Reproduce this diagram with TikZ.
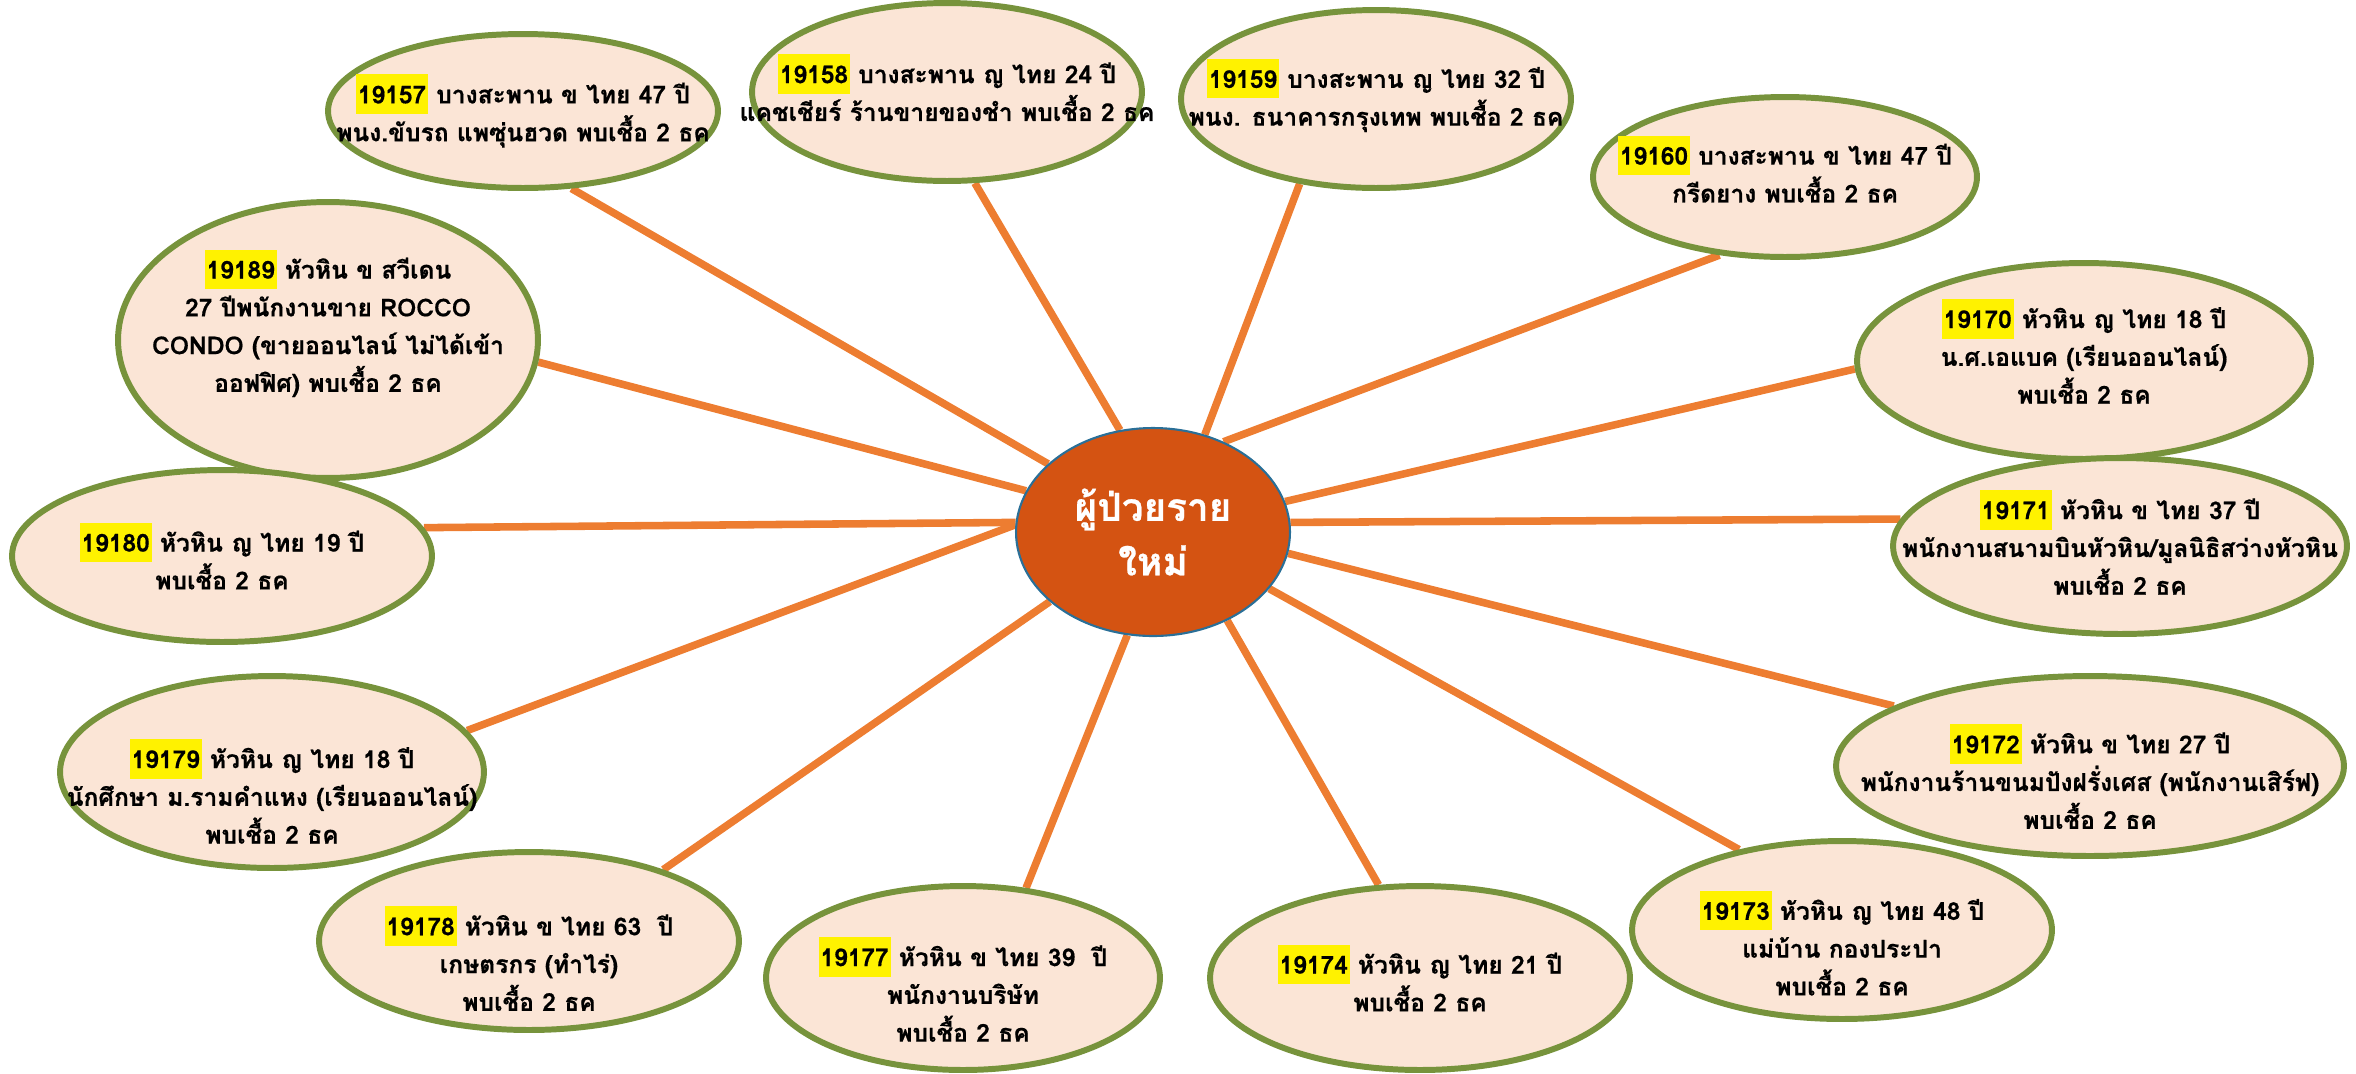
\documentclass[tikz,border=0pt]{standalone}
\usepackage{fontspec}
\usepackage{tikz}
\usetikzlibrary{shapes.geometric}
\usetikzlibrary{backgrounds}
\newfontfamily\thaifont[Script=Thai, BoldFeatures={FakeBold=0.6}]{Loma}
\definecolor{pfill}{HTML}{FBE5D6}
\definecolor{pgreen}{HTML}{77933C}
\definecolor{plink}{HTML}{ED7D31}
\definecolor{pcore}{HTML}{D45312}
\definecolor{pedge}{HTML}{2A6F97}
\newcommand{\pid}[1]{{\setlength{\fboxsep}{1pt}\colorbox{yellow}{\rule[-5pt]{0pt}{20.5pt}#1}}}
\tikzset{
  patient/.style={ellipse, draw=pgreen, line width=3.4pt, fill=pfill, inner sep=0pt},
  ptext/.style={align=center, font=\thaifont\bfseries\fontsize{14}{21.5}\selectfont},
  hub/.style={ellipse, draw=pedge, line width=1.2pt, fill=pcore, text=white, inner sep=0pt,
    align=center, font=\thaifont\bfseries\fontsize{22}{31}\selectfont},
  link/.style={plink, line width=4.3pt}
}

\begin{document}
\begin{tikzpicture}[x=0.02cm, y=-0.02cm]
  \useasboundingbox (0,0) rectangle (2356,1073);
  % centre
  \node[hub, minimum width=5.48cm, minimum height=4.16cm] (hub) at (1153,532) {ผู้ป่วยราย\\ใหม่};
  % cases
  \node[patient, minimum width=7.8cm, minimum height=3.08cm, label={[ptext]center:{\pid{19157} บางสะพาน ข ไทย 47 ปี\\พนง.ขับรถ แพซุ่นฮวด พบเชื้อ 2 ธค}}] (p19157) at (523,111) {};
  \node[patient, minimum width=7.8cm, minimum height=3.56cm, label={[ptext, yshift=2.5pt]center:{\pid{19158} บางสะพาน ญ ไทย 24 ปี\\แคชเชียร์ ร้านขายของชำ พบเชื้อ 2 ธค}}] (p19158) at (947,92) {};
  \node[patient, minimum width=7.8cm, minimum height=3.56cm, label={[ptext, yshift=2pt]center:{\pid{19159} บางสะพาน ญ ไทย 32 ปี\\พนง. ธนาคารกรุงเทพ พบเชื้อ 2 ธค}}] (p19159) at (1376,99) {};
  \node[patient, minimum width=7.68cm, minimum height=3.2cm, label={[ptext, yshift=4.5pt]center:{\pid{19160} บางสะพาน ข ไทย 47 ปี\\กรีดยาง พบเชื้อ 2 ธค}}] (p19160) at (1785,177) {};
  \node[patient, minimum width=8.4cm, minimum height=5.52cm, label={[ptext, yshift=9.5pt]center:{\pid{19189} หัวหิน ข สวีเดน\\27 ปีพนักงานขาย ROCCO\\CONDO (ขายออนไลน์ ไม่ได้เข้า\\ออฟฟิศ) พบเชื้อ 2 ธค}}] (p19189) at (328,340) {};
  \node[patient, minimum width=9.08cm, minimum height=3.92cm, label={[ptext, yshift=5.5pt]center:{\pid{19170} หัวหิน ญ ไทย 18 ปี\\น.ศ.เอแบค (เรียนออนไลน์)\\พบเชื้อ 2 ธค}}] (p19170) at (2084,361) {};
  \node[patient, minimum width=8.4cm, minimum height=3.44cm, label={[ptext]center:{\pid{19180} หัวหิน ญ ไทย 19 ปี\\พบเชื้อ 2 ธค}}] (p19180) at (222,556) {};
  \node[patient, minimum width=9.08cm, minimum height=3.52cm, label={[ptext, yshift=2pt]center:{\pid{19171} หัวหิน ข ไทย 37 ปี\\พนักงานสนามบินหัวหิน/มูลนิธิสว่างหัวหิน\\พบเชื้อ 2 ธค}}] (p19171) at (2120,546) {};
  \node[patient, minimum width=8.48cm, minimum height=3.84cm, label={[ptext, yshift=-11pt]center:{\pid{19179} หัวหิน ญ ไทย 18 ปี\\นักศึกษา ม.รามคำแหง (เรียนออนไลน์)\\พบเชื้อ 2 ธค}}] (p19179) at (272,772) {};
  \node[patient, minimum width=10.16cm, minimum height=3.6cm, label={[ptext, yshift=-6pt]center:{\pid{19172} หัวหิน ข ไทย 27 ปี\\พนักงานร้านขนมปังฝรั่งเศส (พนักงานเสิร์ฟ)\\พบเชื้อ 2 ธค}}] (p19172) at (2090,766) {};
  \node[patient, minimum width=8.4cm, minimum height=3.56cm, label={[ptext, yshift=-10pt]center:{\pid{19178} หัวหิน ข ไทย 63\ \ ปี\\เกษตรกร (ทำไร่)\\พบเชื้อ 2 ธค}}] (p19178) at (529,941) {};
  \node[patient, minimum width=7.88cm, minimum height=3.68cm, label={[ptext, yshift=-6.5pt]center:{\pid{19177} หัวหิน ข ไทย 39\ \ ปี\\พนักงานบริษัท\\พบเชื้อ 2 ธค}}] (p19177) at (963,978) {};
  \node[patient, minimum width=8.4cm, minimum height=3.68cm, label={[ptext]center:{\pid{19174} หัวหิน ญ ไทย 21 ปี\\พบเชื้อ 2 ธค}}] (p19174) at (1420,978) {};
  \node[patient, minimum width=8.4cm, minimum height=3.56cm, label={[ptext, yshift=-7.5pt]center:{\pid{19173} หัวหิน ญ ไทย 48 ปี\\แม่บ้าน กองประปา\\พบเชื้อ 2 ธค}}] (p19173) at (1842,930) {};
  % spokes
  \begin{scope}[on background layer]
    \draw[link] (hub.147) -- (p19157.302);
    \draw[link] (hub.108) -- (p19158.287);
    \draw[link] (hub.62) -- (p19159.228);
    \draw[link] (hub.52) -- (p19160.230);
    \draw[link] (hub.162) -- (p19189.354);
    \draw[link] (hub.13) -- (p19170.182);
    \draw[link] (hub.176) -- (p19180.8);
    \draw[link] (hub.4) -- (p19171.173);
    \draw[link] (hub.177) -- (p19179.12);
    \draw[link] (hub.351) -- (p19172.163);
    \draw[link] (hub.214) -- (p19178.28);
    \draw[link] (hub.256) -- (p19177.55);
    \draw[link] (hub.310) -- (p19174.114);
    \draw[link] (hub.334) -- (p19173.142);
  \end{scope}
\end{tikzpicture}
\end{document}
